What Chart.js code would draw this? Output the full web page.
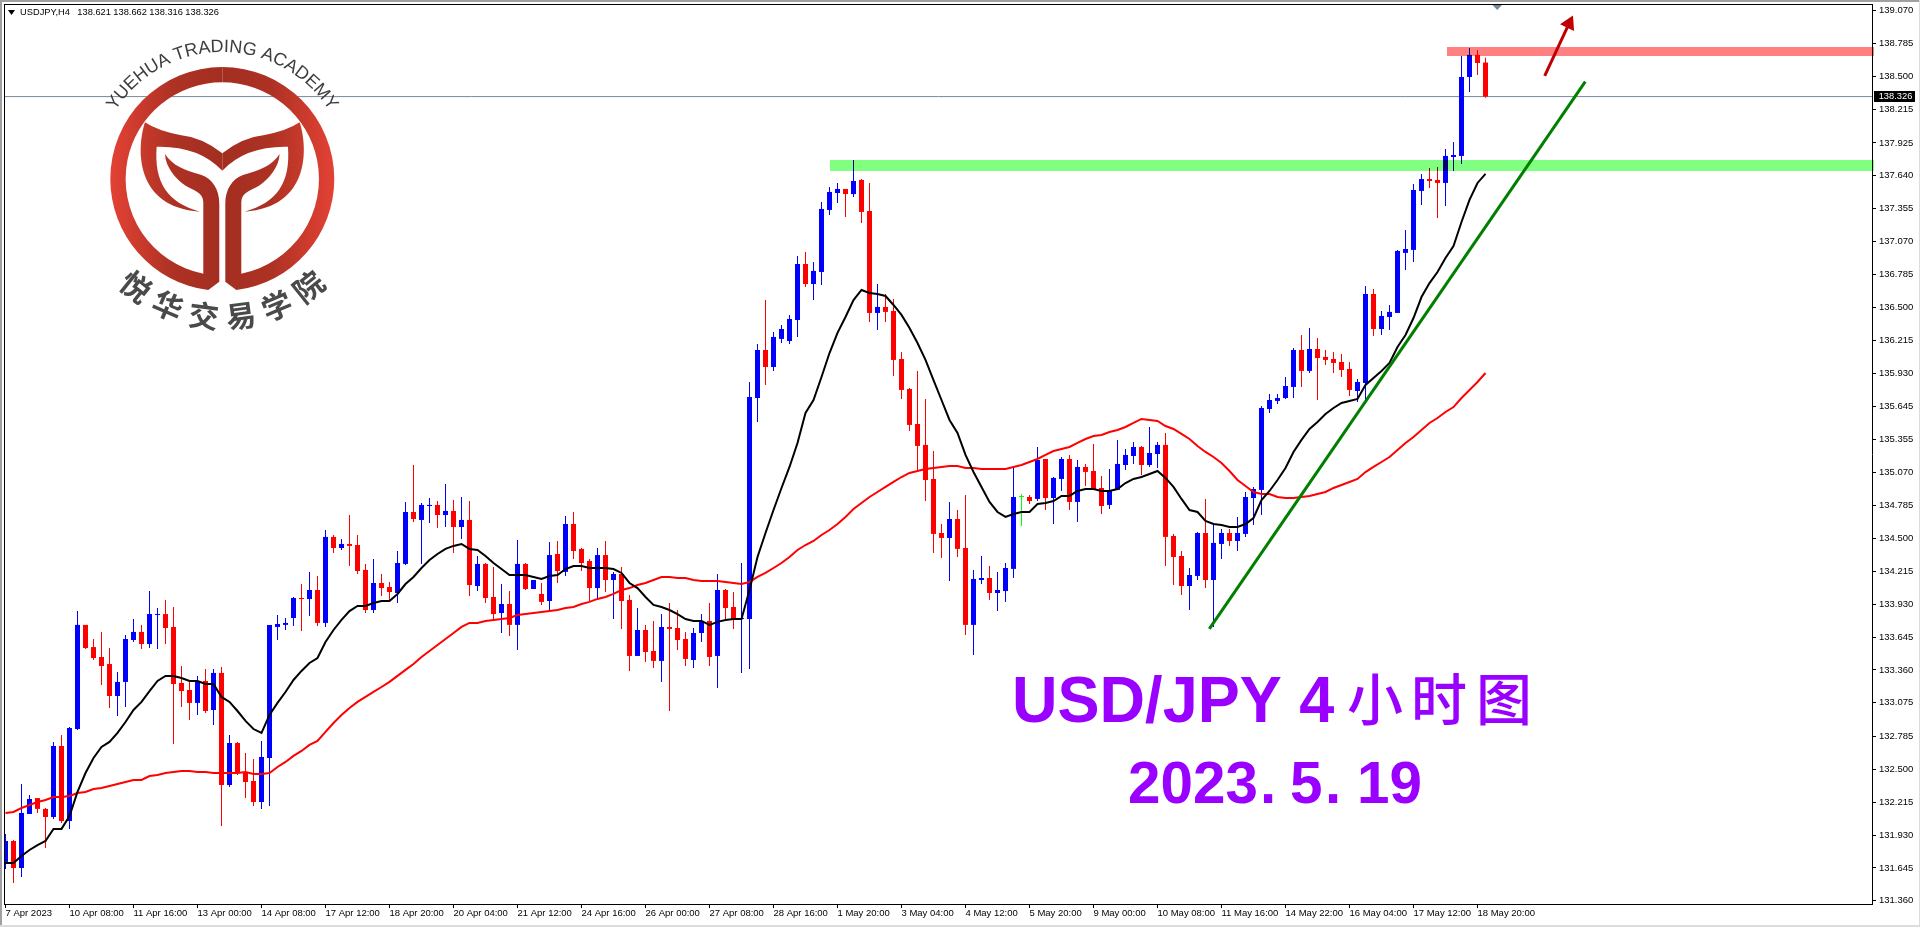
<!DOCTYPE html>
<html>
<head>
<meta charset="utf-8">
<title>USDJPY H4</title>
<style>
  html, body { margin: 0; padding: 0; background: #fff; overflow: hidden; }
  canvas { display: block; }
</style>
<script src="https://cdn.jsdelivr.net/npm/chart.js@4/dist/chart.umd.js"></script>
</head>
<body>
<canvas id="myChart" width="1920" height="927"></canvas>
<script>
"use strict";

let timeLabels = ['7 Apr 2023', '10 Apr 08:00', '11 Apr 16:00', '13 Apr 00:00', '14 Apr 08:00', '17 Apr 12:00',
  '18 Apr 20:00', '20 Apr 04:00', '21 Apr 12:00', '24 Apr 16:00', '26 Apr 00:00', '27 Apr 08:00', '28 Apr 16:00',
  '1 May 20:00', '3 May 04:00', '4 May 12:00', '5 May 20:00', '9 May 00:00', '10 May 08:00', '11 May 16:00',
  '14 May 22:00', '16 May 04:00', '17 May 12:00', '18 May 20:00'];

let priceTicks = [139.070, 138.785, 138.500, 138.215, 137.925, 137.640, 137.355, 137.070, 136.785, 136.500,
  136.215, 135.930, 135.645, 135.355, 135.070, 134.785, 134.500, 134.215, 133.930, 133.645, 133.360, 133.075,
  132.785, 132.500, 132.215, 131.930, 131.645, 131.360];

let opens = [131.697,131.878,131.644,132.112,132.250,132.156,132.086,132.701,132.051,132.848,
  133.750,133.558,133.472,133.411,133.134,133.256,133.619,133.689,133.584,133.836,
  133.844,133.732,133.247,133.186,133.074,133.264,133.013,133.334,132.363,132.727,
  132.476,132.398,132.216,132.597,133.732,133.750,133.810,133.983,133.974,134.052,
  133.767,134.512,134.416,134.451,134.442,134.226,133.879,134.113,134.078,134.026,
  134.278,134.728,134.659,134.780,134.789,134.702,134.737,134.598,134.659,134.087,
  134.278,133.992,133.853,133.931,133.750,134.278,134.061,134.018,133.957,134.364,
  134.209,134.624,134.408,134.304,134.069,134.355,134.139,134.191,133.966,133.481,
  133.706,133.524,133.438,133.732,133.723,133.628,133.446,133.680,133.784,133.481,
  134.052,133.905,133.801,133.801,135.715,136.131,135.984,136.227,136.209,136.391,
  136.876,136.703,136.807,137.344,137.491,137.526,137.482,137.604,137.335,136.452,
  136.504,136.469,136.053,135.793,135.490,135.309,135.014,134.546,134.503,134.667,
  134.416,133.750,134.139,134.156,134.026,134.043,134.235,134.858,134.858,134.841,
  135.187,134.849,135.014,135.187,134.815,135.118,135.083,134.936,134.789,134.919,
  135.135,135.213,135.291,135.135,135.230,135.309,134.520,134.347,134.087,134.174,
  134.546,134.139,134.451,134.546,134.477,134.538,134.849,134.919,135.620,135.690,
  135.715,135.811,136.131,135.950,136.140,136.071,136.053,136.027,135.967,135.776,
  135.845,136.616,136.313,136.417,136.452,136.972,136.998,137.509,137.612,137.604,
  137.578,137.803,137.812,138.496,138.687,138.621];

let highs = [131.939,131.887,132.372,132.277,132.250,132.164,132.736,132.797,132.866,133.870,
  133.750,133.628,133.689,133.550,133.342,133.663,133.801,133.750,134.043,133.896,
  133.966,133.905,133.394,133.264,133.308,133.368,133.368,133.386,132.797,132.736,
  132.641,132.589,132.745,133.750,133.836,133.810,133.992,134.104,134.209,134.174,
  134.572,134.529,134.494,134.702,134.529,134.278,134.321,134.191,134.122,134.390,
  134.815,135.135,134.806,134.849,134.823,134.971,134.832,134.858,134.823,134.347,
  134.286,134.252,134.104,134.043,134.486,134.286,134.139,134.113,134.468,134.477,
  134.694,134.728,134.416,134.321,134.416,134.477,134.209,134.252,134.009,133.896,
  133.750,133.784,133.844,133.940,133.879,133.689,133.723,133.844,133.940,134.191,
  134.061,134.035,134.286,135.854,136.183,136.564,136.287,136.348,136.434,136.946,
  136.981,136.894,137.413,137.543,137.578,137.526,137.777,137.612,137.578,136.703,
  136.616,136.573,136.114,135.802,135.949,135.707,135.256,134.624,134.815,134.745,
  134.875,134.226,134.347,134.260,134.209,134.286,135.109,134.884,134.875,135.291,
  135.187,135.031,135.204,135.222,135.178,135.144,135.317,135.040,135.101,135.352,
  135.274,135.334,135.300,135.464,135.334,135.412,134.538,134.390,134.243,134.555,
  134.841,134.616,134.581,134.581,134.685,134.901,134.945,135.646,135.750,135.750,
  135.897,136.148,136.261,136.322,136.235,136.131,136.114,136.097,136.027,135.880,
  136.686,136.660,136.469,136.521,136.998,137.171,137.569,137.656,137.708,137.716,
  137.873,137.933,138.678,138.747,138.730,138.662];

let lows = [131.636,131.514,131.566,132.112,132.121,131.817,132.069,132.034,131.983,132.840,
  133.541,133.446,133.230,133.030,132.961,133.039,133.602,133.541,133.550,133.541,
  133.584,132.718,133.039,132.926,132.970,132.987,132.883,132.008,132.346,132.450,
  132.250,132.181,132.156,132.181,133.619,133.706,133.741,133.697,133.827,133.741,
  133.732,134.373,134.399,134.260,134.191,133.853,133.853,134.000,133.966,133.940,
  134.269,134.641,134.278,134.633,134.590,134.598,134.373,134.494,134.000,134.043,
  133.940,133.793,133.680,133.654,133.533,134.052,134.061,133.923,133.870,134.113,
  134.174,134.321,134.217,133.957,133.983,134.035,133.801,133.715,133.351,133.481,
  133.429,133.377,133.256,133.004,133.533,133.394,133.377,133.602,133.394,133.204,
  133.801,133.715,133.334,133.368,135.508,135.828,135.950,136.192,136.183,136.244,
  136.677,136.564,136.694,137.300,137.405,137.283,137.457,137.231,136.374,136.305,
  136.374,135.906,135.707,135.430,135.083,134.823,134.373,134.330,134.130,134.338,
  133.663,133.490,134.104,133.966,133.870,133.949,134.156,134.607,134.797,134.823,
  134.745,134.624,134.910,134.745,134.641,134.953,134.919,134.711,134.754,134.919,
  135.092,135.144,135.048,135.118,135.109,134.260,134.095,134.009,133.879,134.139,
  134.070,133.732,134.321,134.434,134.390,134.512,134.616,134.702,135.586,135.664,
  135.707,135.715,135.811,135.932,135.698,136.001,135.932,135.897,135.733,135.681,
  135.698,136.253,136.261,136.305,136.452,136.824,136.894,137.387,137.534,137.275,
  137.379,137.682,137.742,138.366,138.513,138.316];

let closes = [131.878,131.644,132.121,132.242,132.156,132.086,132.701,132.051,132.857,133.750,
  133.550,133.463,133.394,133.134,133.256,133.628,133.689,133.584,133.844,133.844,
  133.723,133.238,133.177,133.074,133.264,133.004,133.334,132.363,132.727,132.467,
  132.389,132.216,132.606,133.750,133.758,133.767,133.983,133.974,134.052,133.767,
  134.512,134.416,134.451,134.434,134.217,133.879,134.113,134.069,134.035,134.286,
  134.728,134.667,134.789,134.789,134.702,134.737,134.598,134.659,134.095,134.278,
  133.983,133.844,133.931,133.750,134.278,134.061,134.139,133.949,134.355,134.217,
  134.624,134.390,134.286,134.069,134.355,134.139,134.191,133.957,133.481,133.706,
  133.515,133.438,133.732,133.715,133.619,133.455,133.680,133.784,133.472,134.052,
  133.896,133.801,133.810,135.724,136.131,135.984,136.244,136.313,136.400,136.876,
  136.703,136.816,137.353,137.500,137.526,137.482,137.595,137.327,136.452,136.504,
  136.461,136.045,135.785,135.482,135.300,135.005,134.538,134.503,134.667,134.408,
  133.750,134.148,134.156,134.026,134.052,134.243,134.858,134.858,134.823,135.178,
  134.849,135.023,135.187,134.815,135.118,135.075,134.927,134.780,134.919,135.144,
  135.222,135.291,135.135,135.239,135.309,134.512,134.338,134.087,134.182,134.546,
  134.139,134.460,134.546,134.477,134.546,134.858,134.927,135.629,135.698,135.715,
  135.819,136.131,135.950,136.140,136.062,136.045,136.019,135.958,135.785,135.854,
  136.616,136.313,136.426,136.461,136.989,137.006,137.517,137.612,137.595,137.578,
  137.812,137.820,138.496,138.687,138.617,138.326];

let maFast = [131.688,131.688,131.748,131.800,131.843,131.878,131.983,131.983,132.095,132.303,
  132.467,132.597,132.693,132.736,132.814,132.909,133.013,133.083,133.177,133.264,
  133.308,133.308,133.290,133.264,133.264,133.238,133.238,133.126,133.083,133.004,
  132.918,132.848,132.814,132.970,133.074,133.169,133.273,133.351,133.420,133.463,
  133.602,133.706,133.793,133.870,133.914,133.914,133.940,133.957,133.957,134.018,
  134.104,134.165,134.243,134.312,134.364,134.408,134.434,134.451,134.408,134.399,
  134.347,134.286,134.234,134.182,134.182,134.182,134.165,134.148,134.174,134.182,
  134.234,134.260,134.260,134.243,134.243,134.243,134.234,134.200,134.113,134.069,
  133.992,133.923,133.905,133.879,133.844,133.801,133.784,133.784,133.750,133.776,
  133.793,133.801,133.801,134.052,134.338,134.546,134.745,134.936,135.118,135.326,
  135.586,135.698,135.897,136.105,136.279,136.417,136.564,136.651,136.625,136.616,
  136.599,136.521,136.435,136.322,136.192,136.045,135.871,135.698,135.525,135.412,
  135.222,135.074,134.945,134.815,134.728,134.685,134.711,134.728,134.728,134.797,
  134.806,134.823,134.867,134.867,134.910,134.927,134.927,134.910,134.910,134.927,
  134.979,135.014,135.031,135.057,135.083,135.023,134.945,134.841,134.745,134.728,
  134.650,134.624,134.616,134.598,134.598,134.624,134.676,134.832,134.910,135.005,
  135.109,135.248,135.352,135.447,135.508,135.577,135.629,135.672,135.690,135.707,
  135.828,135.889,135.950,136.019,136.157,136.261,136.408,136.590,136.711,136.807,
  136.928,137.032,137.240,137.431,137.578,137.656];

let maSlow = [132.121,132.130,132.164,132.190,132.216,132.233,132.259,132.259,132.268,132.294,
  132.303,132.329,132.337,132.355,132.372,132.389,132.407,132.407,132.441,132.450,
  132.467,132.476,132.485,132.485,132.476,132.476,132.467,132.467,132.467,132.467,
  132.476,132.459,132.459,132.467,132.519,132.563,132.615,132.658,132.710,132.745,
  132.823,132.900,132.970,133.030,133.083,133.126,133.169,133.212,133.256,133.308,
  133.360,133.411,133.472,133.524,133.576,133.628,133.680,133.732,133.767,133.767,
  133.784,133.793,133.801,133.810,133.836,133.844,133.853,133.862,133.870,133.879,
  133.896,133.905,133.931,133.949,133.975,133.992,134.018,134.052,134.069,134.095,
  134.113,134.139,134.165,134.165,134.156,134.156,134.139,134.130,134.130,134.130,
  134.122,134.113,134.104,134.122,134.165,134.200,134.243,134.286,134.338,134.399,
  134.442,134.477,134.529,134.572,134.624,134.685,134.754,134.806,134.858,134.901,
  134.945,134.988,135.031,135.066,135.083,135.100,135.109,135.118,135.126,135.126,
  135.109,135.109,135.100,135.100,135.100,135.100,135.118,135.135,135.161,135.187,
  135.222,135.256,135.274,135.291,135.326,135.360,135.386,135.395,135.421,135.438,
  135.464,135.499,135.534,135.525,135.516,135.473,135.447,135.404,135.360,135.300,
  135.248,135.204,135.152,135.083,135.005,134.953,134.901,134.884,134.884,134.858,
  134.849,134.849,134.858,134.867,134.884,134.901,134.936,134.962,134.988,135.014,
  135.074,135.118,135.161,135.204,135.265,135.326,135.378,135.438,135.499,135.542,
  135.594,135.637,135.715,135.785,135.854,135.932];

// drawn objects on the chart: bar index / price pairs
let lastPrice = [138.326, 138.326];
let lastPriceX = [-0.0625, 233.3125];
let greenBand = [137.729, 137.729];
let greenBandX = [103.06, 233.56];
let redBand = [138.717, 138.717];
let redBandX = [180.19, 233.56];
let trendX = [150.475, 197.475];
let trendY = [133.715, 138.455];
let arrowX = [192.4, 195.44];
let arrowY = [138.505, 138.958];

const HEAD_TEXT = ['138.621', '138.662', '138.316', '138.326'];

function pairs(xs, ys) {
  return xs.map((x, i) => ({ x: x, y: ys[i] }));
}

let wickData = highs.map((h, i) => ({ x: i, y: [lows[i], h] }));
let bodyData = opens.map((o, i) => ({ x: i, y: [Math.min(o, closes[i]), Math.max(o, closes[i])] }));
let candleColors = opens.map((o, i) => closes[i] > o ? '#0000ff' : closes[i] < o ? '#ff0000' : '#00ff00');

function lineSet(data, color, width, order) {
  return { type: 'line', data: data, borderColor: color, borderWidth: width, pointRadius: 0,
    tension: 0, fill: false, order: order };
}

function drawLogo(ctx) {
  ctx.save();
  ctx.translate(222.3, 179);
  ctx.scale(1 / 3, 1 / 3);
  let grad = ctx.createLinearGradient(-336, 0, 336, 0);
  grad.addColorStop(0, '#e34234');
  grad.addColorStop(0.28, '#ad3224');
  grad.addColorStop(0.5, '#a32e20');
  grad.addColorStop(0.72, '#ad3224');
  grad.addColorStop(1, '#e34234');
  ctx.fillStyle = grad;
  [1, -1].forEach(side => {
    ctx.save();
    ctx.scale(side, 1);
    // ring half running into the stem and inner leaf
    ctx.beginPath();
    ctx.arc(0, 0, 336, -Math.PI / 2, Math.atan2(333, -42), true);
    ctx.lineTo(-9, 308);
    ctx.lineTo(-9, 75);
    ctx.bezierCurveTo(-9, 30, -30, 0, -62, -12);
    ctx.bezierCurveTo(-110, -25, -150, -40, -172, -75);
    ctx.bezierCurveTo(-170, -35, -140, 0, -110, 20);
    ctx.bezierCurveTo(-85, 35, -57, 40, -57, 70);
    ctx.lineTo(-57, 286);
    ctx.arc(0, 0, 290, Math.atan2(286, -57), -Math.PI / 2, false);
    ctx.closePath();
    ctx.fill();
    // tail
    ctx.beginPath();
    ctx.moveTo(0, -77);
    ctx.quadraticCurveTo(-60, -125, -127, -132);
    ctx.quadraticCurveTo(-195, -145, -232, -170);
    ctx.bezierCurveTo(-258, -90, -262, 85, -67, 98);
    ctx.bezierCurveTo(-165, 70, -205, 10, -197, -97);
    ctx.quadraticCurveTo(-70, -100, 0, -25);
    ctx.closePath();
    ctx.fill();
    ctx.restore();
  });
  ctx.restore();

  ctx.save();
  ctx.fillStyle = '#3d3d3d';
  ctx.font = '18px "Liberation Sans"';
  ctx.textAlign = 'center';
  ctx.textBaseline = 'alphabetic';
  let name = 'YUEHUA TRADING ACADEMY';
  let total = ctx.measureText(name).width;
  let run = 0;
  for (let ch of name) {
    let w = ctx.measureText(ch).width;
    let ang = (run + w / 2 - total / 2) / 127;
    ctx.save();
    ctx.translate(222.3 + Math.sin(ang) * 127, 179 - Math.cos(ang) * 127);
    ctx.rotate(ang);
    ctx.fillText(ch, 0, 0);
    ctx.restore();
    run += w;
  }
  ctx.fillStyle = '#4a4a4a';
  ctx.font = '700 30px "Noto Sans CJK SC"';
  ctx.textBaseline = 'middle';
  Array.from('悦华交易学院').forEach((ch, k) => {
    let ang = (k - 2.5) * 15.5 * Math.PI / 180;
    ctx.save();
    ctx.translate(222.3 + Math.sin(ang) * 138, 179 + Math.cos(ang) * 138);
    ctx.rotate(-ang);
    ctx.fillText(ch, 0, 0);
    ctx.restore();
  });
  ctx.restore();
}

function drawStretched(ctx, text, x, y, sx) {
  ctx.save();
  ctx.translate(x, y);
  ctx.scale(sx, 1);
  ctx.fillText(text, 0, 0);
  ctx.restore();
}

function drawCaption(ctx) {
  ctx.save();
  ctx.fillStyle = '#9900ff';
  ctx.textBaseline = 'alphabetic';
  ctx.font = 'bold 65px "Liberation Sans"';
  drawStretched(ctx, 'USD/JPY 4', 1012, 722, 0.97);
  ctx.font = 'bold 60px "Liberation Sans"';
  drawStretched(ctx, '2023', 1128, 803, 0.973);
  drawStretched(ctx, '.', 1260, 803, 0.973);
  drawStretched(ctx, '5', 1290, 803, 0.973);
  drawStretched(ctx, '.', 1325, 803, 0.973);
  drawStretched(ctx, '19', 1357, 803, 0.973);
  ctx.font = '500 56px "Noto Sans CJK SC"';
  ctx.textAlign = 'center';
  ctx.textBaseline = 'middle';
  ctx.fillText('小', 1375, 699);
  ctx.fillText('时', 1439, 699);
  ctx.fillText('图', 1504, 699);
  ctx.restore();
}

function drawFrame(ctx) {
  ctx.save();
  ctx.fillStyle = '#a0a0a0';
  ctx.fillRect(0, 0, 1920, 2);
  ctx.fillRect(0, 0, 2, 927);
  ctx.fillStyle = '#dcdcdc';
  ctx.fillRect(0, 925, 1920, 2);
  ctx.fillRect(1919, 0, 1, 927);
  ctx.fillStyle = '#000';
  ctx.fillRect(4, 4, 1869, 1);
  ctx.fillRect(4, 4, 1, 901);
  // chart window header
  ctx.beginPath();
  ctx.moveTo(8, 10);
  ctx.lineTo(15, 10);
  ctx.lineTo(11.5, 15);
  ctx.closePath();
  ctx.fill();
  ctx.font = '9.3px "Liberation Sans"';
  ctx.textBaseline = 'middle';
  ctx.fillText('USDJPY,H4', 20, 12.5);
  HEAD_TEXT.forEach((t, k) => ctx.fillText(t, 77.3 + 36 * k, 12.5));
  // shift marker at the top
  ctx.fillStyle = '#778899';
  ctx.beginPath();
  ctx.moveTo(1492.5, 5);
  ctx.lineTo(1502, 5);
  ctx.lineTo(1497.2, 10);
  ctx.closePath();
  ctx.fill();
  // last price tag
  ctx.fillStyle = '#000';
  ctx.fillRect(1874, 91, 41, 11);
  ctx.fillStyle = '#fff';
  ctx.fillText(lastPrice[0].toFixed(3), 1878.7, 96.8);
  ctx.restore();
}

let overlay = {
  id: 'overlay',
  beforeDraw(chart) {
    chart.ctx.save();
    chart.ctx.fillStyle = '#fff';
    chart.ctx.fillRect(0, 0, 1920, 927);
    chart.ctx.restore();
  },
  beforeDatasetDraw(chart, args) {
    if (chart.data.datasets[args.index].multiply) {
      chart.ctx.globalCompositeOperation = 'multiply';
    }
  },
  afterDatasetDraw(chart, args) {
    if (chart.data.datasets[args.index].multiply) {
      chart.ctx.globalCompositeOperation = 'source-over';
    }
  },
  afterDraw(chart) {
    drawFrame(chart.ctx);
    drawLogo(chart.ctx);
    drawCaption(chart.ctx);
  }
};

let chartObject = {
  type: 'bar',
  data: {
    datasets: [
      lineSet(pairs(lastPriceX, lastPrice), '#778899', 1, 10),
      {
        type: 'bar', data: wickData, backgroundColor: candleColors, barThickness: 1, grouped: false,
        inflateAmount: 0, borderWidth: 0, minBarLength: 1, order: 9
      },
      {
        type: 'bar', data: bodyData, backgroundColor: candleColors, barThickness: 5, grouped: false,
        inflateAmount: 0, borderWidth: 0, minBarLength: 1, order: 8
      },
      lineSet(pairs(maSlow.map((v, i) => i), maSlow), '#ff0000', 2, 7),
      lineSet(pairs(maFast.map((v, i) => i), maFast), '#000000', 2, 6),
      lineSet(pairs(trendX, trendY), '#008000', 3, 5),
      Object.assign(lineSet(pairs(arrowX, arrowY), '#c00000', 3, 4), {
        pointRadius: [0, 9], pointStyle: 'triangle', pointRotation: [0, 26],
        pointBackgroundColor: '#c00000', pointBorderWidth: 0, clip: false
      }),
      Object.assign(lineSet(pairs(greenBandX, greenBand), '#80ff80', 11, 3), { multiply: true, clip: false }),
      Object.assign(lineSet(pairs(redBandX, redBand), '#ff8080', 9, 2), { multiply: true, clip: false })
    ]
  },
  options: {
    responsive: false,
    animation: false,
    parsing: { xAxisKey: 'x', yAxisKey: 'y' },
    layout: { autoPadding: false, padding: { left: 5, top: 4, right: 0, bottom: 0 } },
    plugins: { legend: { display: false }, tooltip: { enabled: false }, title: { display: false } },
    events: [],
    scales: {
      x: {
        type: 'linear',
        offset: false,
        min: -0.0625,
        max: 233.3125,
        grid: { offset: false, drawOnChartArea: false, drawTicks: true, tickLength: 4, tickColor: '#000', tickWidth: 1 },
        border: { display: true, color: '#000', width: 1 },
        afterBuildTicks: scale => { scale.ticks = timeLabels.map((t, k) => ({ value: k * 8 })); },
        afterFit: scale => { scale.height = 23; scale.paddingLeft = 0; scale.paddingRight = 0; },
        ticks: {
          autoSkip: false, maxRotation: 0, minRotation: 0, align: 'start', padding: 0, color: '#000',
          font: { family: '"Liberation Sans"', size: 9.5 },
          callback: (value, index) => timeLabels[index]
        }
      },
      y: {
        type: 'linear',
        position: 'right',
        min: 131.3324,
        max: 139.1281,
        grid: { drawOnChartArea: false, drawTicks: true, tickLength: 4, tickColor: '#000', tickWidth: 1 },
        border: { display: true, color: '#000', width: 1 },
        afterBuildTicks: scale => { scale.ticks = priceTicks.map(p => ({ value: p })); },
        afterFit: scale => { scale.width = 48; scale.paddingTop = 0; scale.paddingBottom = 0; },
        ticks: {
          autoSkip: false, padding: 3, color: '#000',
          font: { family: '"Liberation Sans"', size: 9.5 },
          callback: value => value.toFixed(3)
        }
      }
    }
  },
  plugins: [overlay]
};

let ctx = document.getElementById('myChart').getContext('2d');
let myChart = new Chart(ctx, chartObject);
</script>
</body>
</html>
